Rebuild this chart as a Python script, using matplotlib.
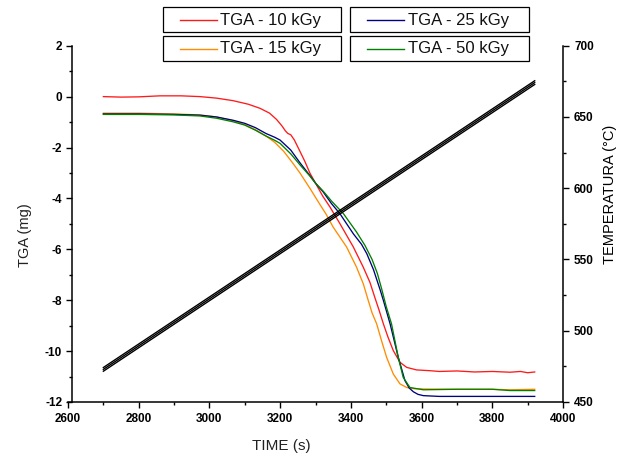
import matplotlib
matplotlib.use("Agg")
import matplotlib.pyplot as plt
from matplotlib.patches import Rectangle
from matplotlib.lines import Line2D
from matplotlib.ticker import MultipleLocator

plt.rcParams['font.family'] = ['Liberation Sans', 'DejaVu Sans']
plt.rcParams['axes.unicode_minus'] = False

# ---------------- data ----------------
t_10 = [2700, 2750, 2800, 2860, 2920, 2973, 3020, 3067, 3110, 3143, 3170, 3190, 3205, 3215,
        3222, 3230, 3240, 3256, 3270, 3284, 3300, 3320, 3341, 3369, 3407, 3435, 3454, 3468,
        3480, 3492, 3505, 3520, 3539, 3558, 3586, 3624, 3650, 3700, 3750, 3800, 3850, 3880,
        3900, 3920]
tga_10 = [0.0, -0.02, -0.01, 0.03, 0.03, 0.0, -0.06, -0.16, -0.3, -0.46, -0.65, -0.9, -1.15, -1.35,
          -1.45, -1.5, -1.7, -2.15, -2.55, -3.0, -3.4, -3.9, -4.34, -4.99, -5.91, -6.7, -7.3, -7.9,
          -8.4, -8.93, -9.45, -9.98, -10.44, -10.64, -10.74, -10.77, -10.8, -10.78, -10.82, -10.8, -10.83, -10.8,
          -10.85, -10.82]

t_15 = [2700, 2800, 2900, 2973, 3020, 3067, 3100, 3130, 3160, 3185, 3210, 3235, 3256, 3284,
        3313, 3330, 3350, 3388, 3416, 3435, 3449, 3460, 3473, 3487, 3501, 3520, 3539, 3558,
        3580, 3617, 3700, 3800, 3850, 3920]
tga_15 = [-0.65, -0.65, -0.68, -0.72, -0.8, -0.95, -1.1, -1.3, -1.55, -1.8, -2.15, -2.6, -3.0, -3.6,
          -4.25, -4.62, -5.13, -5.91, -6.7, -7.35, -8.0, -8.5, -8.93, -9.6, -10.24, -10.9, -11.29, -11.43,
          -11.48, -11.49, -11.5, -11.5, -11.52, -11.5]

t_25 = [2700, 2800, 2900, 2973, 3020, 3067, 3100, 3130, 3160, 3185, 3200, 3230, 3256, 3284,
        3300, 3322, 3345, 3369, 3407, 3430, 3445, 3464, 3483, 3492, 3511, 3534, 3553, 3565,
        3577, 3590, 3605, 3650, 3750, 3850, 3920]
tga_25 = [-0.68, -0.68, -0.7, -0.73, -0.8, -0.93, -1.05, -1.22, -1.45, -1.6, -1.71, -2.1, -2.6, -3.1,
          -3.4, -3.75, -4.2, -4.6, -5.39, -5.8, -6.17, -6.8, -7.6, -8.01, -8.93, -10.24, -11.16, -11.45,
          -11.6, -11.7, -11.75, -11.78, -11.78, -11.78, -11.78]

t_50 = [2700, 2800, 2900, 2973, 3020, 3067, 3100, 3130, 3160, 3185, 3200, 3230, 3256, 3284,
        3300, 3322, 3345, 3379, 3416, 3440, 3460, 3475, 3487, 3500, 3515, 3534, 3548, 3567,
        3605, 3700, 3800, 3850, 3920]
tga_50 = [-0.7, -0.7, -0.72, -0.76, -0.85, -0.99, -1.12, -1.32, -1.55, -1.72, -1.84, -2.25, -2.68, -3.12,
          -3.4, -3.72, -4.1, -4.6, -5.32, -5.85, -6.4, -6.95, -7.55, -8.25, -8.93, -10.24, -11.03, -11.43,
          -11.52, -11.5, -11.5, -11.55, -11.55]

# temperature traces (three nearly coincident linear ramps)
t_temp = [2700, 3920]
temp_a = [471.6, 672.8]
temp_b = [472.9, 674.1]
temp_c = [474.2, 675.4]

labels = ["TGA - 10 kGy", "TGA - 25 kGy", "TGA - 15 kGy", "TGA - 50 kGy"]
colors = {"TGA - 10 kGy": "#ff1a1a", "TGA - 15 kGy": "#ff8c00",
          "TGA - 25 kGy": "#000080", "TGA - 50 kGy": "#008000"}

x_ticks = [2600, 2800, 3000, 3200, 3400, 3600, 3800, 4000]
y_ticks = [2, 0, -2, -4, -6, -8, -10, -12]
y2_ticks = [450, 500, 550, 600, 650, 700]

# ---------------- figure ----------------
W, H = 619, 457
fig = plt.figure(figsize=(W / 100, H / 100), dpi=100)

def fx(px):
    return px / W

def fy(py):
    return 1 - py / H

ax = fig.add_axes([fx(68), fy(402), (563 - 68) / W, (402 - 45.7) / H])
ax2 = ax.twinx()

lw = 0.95
ax.plot(t_10, tga_10, color=colors["TGA - 10 kGy"], lw=lw, zorder=3)
ax.plot(t_15, tga_15, color=colors["TGA - 15 kGy"], lw=lw, zorder=3)
ax.plot(t_25, tga_25, color=colors["TGA - 25 kGy"], lw=lw, zorder=3)
ax.plot(t_50, tga_50, color=colors["TGA - 50 kGy"], lw=lw, zorder=3)

for tv in (temp_a, temp_b, temp_c):
    ax2.plot(t_temp, tv, color="black", lw=1.0)

ax.set_xlim(2600, 4000)
ax.set_ylim(-12, 2)
ax2.set_ylim(450, 700)

ax.set_xticks(x_ticks)
ax.set_yticks(y_ticks)
ax2.set_yticks(y2_ticks)
ax.xaxis.set_minor_locator(MultipleLocator(100))
ax.yaxis.set_minor_locator(MultipleLocator(1))
ax2.yaxis.set_minor_locator(MultipleLocator(25))

for a in (ax, ax2):
    a.spines['top'].set_visible(False)
    for s in a.spines.values():
        s.set_linewidth(1.1)
ax.spines['right'].set_visible(False)
ax2.spines['left'].set_visible(False)
ax2.spines['bottom'].set_visible(False)
ax.spines['left'].set_position(('data', 2611))

ax.tick_params(axis='both', which='major', direction='out', length=4, width=1.0, pad=3)
ax.tick_params(axis='both', which='minor', direction='out', length=2.5, width=1.0)
ax.tick_params(axis='x', which='major', pad=4)
ax2.tick_params(axis='y', which='major', direction='out', length=4, width=1.0, pad=4)
ax2.tick_params(axis='y', which='minor', direction='out', length=2.5, width=1.0)
for lab in ax.get_xticklabels() + ax.get_yticklabels() + ax2.get_yticklabels():
    lab.set_fontsize(8.5)
    lab.set_fontweight('bold')

# axis labels
fig.text(fx(281), fy(446), "TIME (s)", ha='center', va='center', fontsize=11, color='#222222')
fig.text(fx(25), fy(235), "TGA (mg)", ha='center', va='center', rotation=90, fontsize=10.5, color='#222222')
fig.text(fx(610), fy(194), "TEMPERATURA (°C)", ha='center', va='center', rotation=90, fontsize=10.5, color='black')

# legend boxes (four separate frames)
boxes = [(163, 7, 341, 32), (350, 7, 529, 32), (163, 36, 341, 61), (350, 36, 529, 61)]
for (x0, y0, x1, y1), lab in zip(boxes, labels):
    fig.add_artist(Rectangle((fx(x0), fy(y1)), (x1 - x0) / W, (y1 - y0) / H,
                             transform=fig.transFigure, fill=False, edgecolor='black', lw=0.9))
    yc = (y0 + y1) / 2
    fig.add_artist(Line2D([fx(x0 + 17), fx(x0 + 54)], [fy(yc), fy(yc)],
                          transform=fig.transFigure, color=colors[lab], lw=1.0))
    fig.text(fx(x0 + 57.5), fy(yc + 0.5), lab, ha='left', va='center', fontsize=12, color='#111111')

fig.savefig("out.png", dpi=100)
